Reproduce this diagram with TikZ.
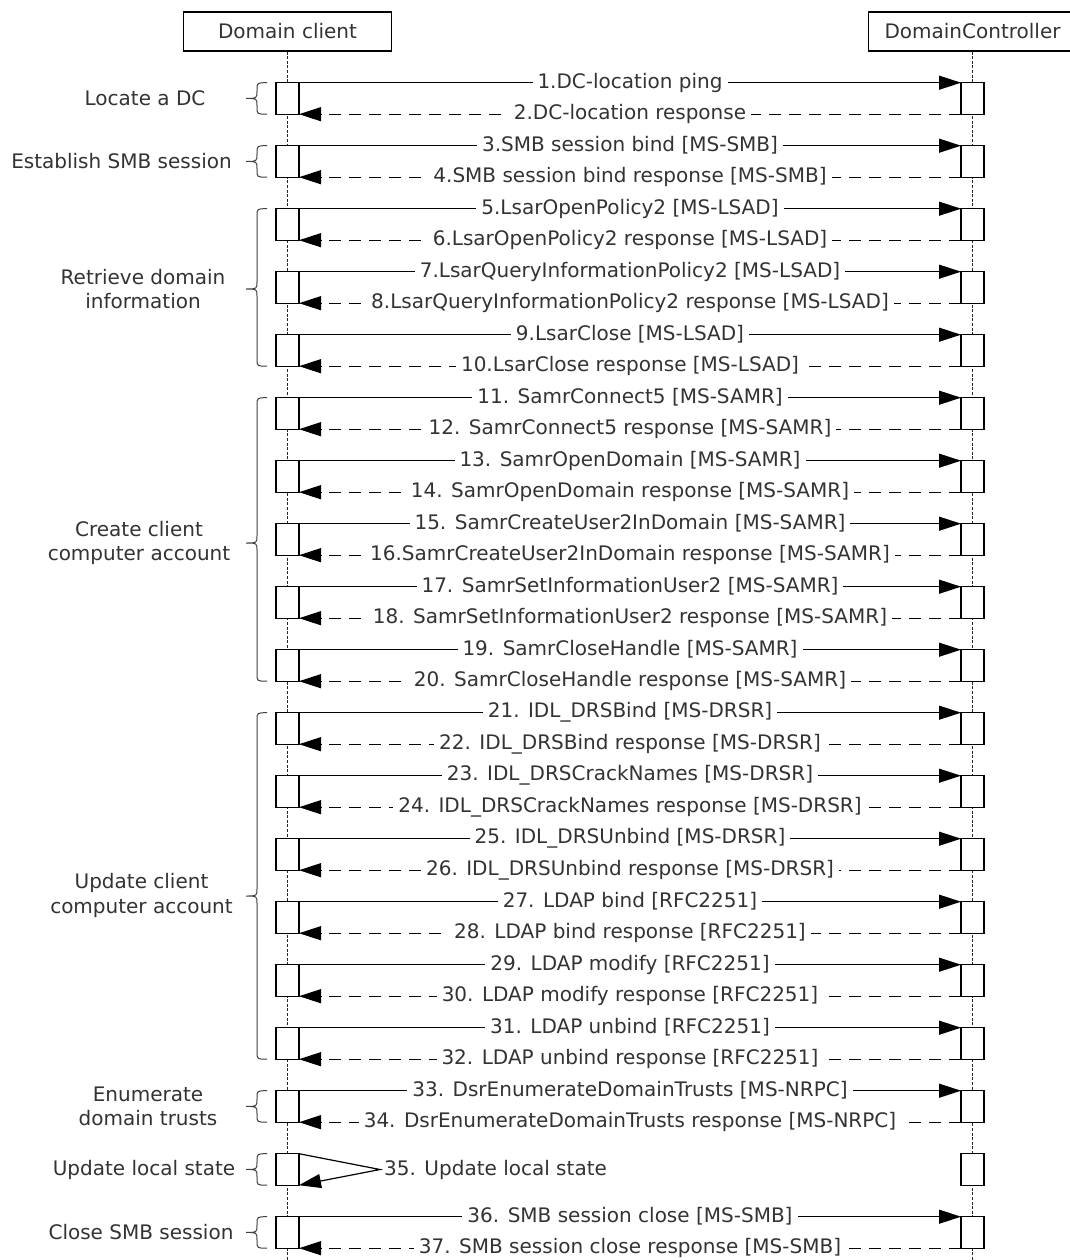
\documentclass[tikz,border=0pt]{standalone}
\usepackage{fontspec}
\setmainfont{DejaVu Sans}
\usetikzlibrary{arrows.meta}
\definecolor{txt}{HTML}{333333}
\newcommand\msgpair[3]{%
  \node[act] (ca#1) at (287.5,{82.7+63*(#1-1)+15.75}) {};
  \node[act] (da#1) at (972.5,{82.7+63*(#1-1)+15.75}) {};
  \draw[req] (ca#1.north east) -- node[lbl]{#2} (da#1.north west);
  \draw[resp] (da#1.south west) -- node[lbl]{#3} (ca#1.south east);
}
% top, bottom, tip y
\newcommand\grpbrace[3]{%
  \draw[brc] (267,#1) .. controls (257,#1) .. (257,{#1+7.5})
    -- (257,{#3-7.5}) .. controls (257,#3) .. (246,#3)
    .. controls (257,#3) .. (257,{#3+7.5})
    -- (257,{#2-7.5}) .. controls (257,#2) .. (267,#2);
}
\begin{document}
\begin{tikzpicture}[x=1pt,y=-1pt,
  every node/.style={font=\fontsize{20}{24.5}\selectfont, text=txt},
  hdr/.style={draw=black, line width=1.2pt, minimum width=208pt, minimum height=39pt, inner sep=0pt, fill=white},
  act/.style={draw=black, fill=white, line width=1.3pt, minimum width=23pt, minimum height=31.5pt, inner sep=0pt, outer sep=0pt},
  life/.style={line width=0.9pt, draw=black!85, dash pattern=on 3pt off 1.6pt},
  req/.style={line width=1.2pt, draw=black, -{Triangle[length=22pt,width=14pt]}},
  resp/.style={req, dash pattern=on 12pt off 8pt},
  lbl/.style={fill=white, inner xsep=5pt, inner ysep=1pt},
  grp/.style={align=center, inner sep=0pt},
  brc/.style={line width=1pt, draw=black!75},
]
\useasboundingbox (0,0) rectangle (1070,1260);
\clip (0,0) rectangle (1070,1260);
\fill[white] (0,0) rectangle (1070,1260);

% participants
\node[hdr] (hc) at (287.5,31.5) {Domain client};
\node[hdr] (hd) at (972.5,31.5) {DomainController};
\coordinate (lcb) at (287.5,1262);
\coordinate (ldb) at (972.5,1262);
\draw[life] (hc.south) -- (lcb);
\draw[life] (hd.south) -- (ldb);

% messages
\msgpair{1}{1.DC-location ping}{2.DC-location response}
\msgpair{2}{3.SMB session bind [MS-SMB]}{4.SMB session bind response [MS-SMB]}
\msgpair{3}{5.LsarOpenPolicy2 [MS-LSAD]}{6.LsarOpenPolicy2 response [MS-LSAD]}
\msgpair{4}{7.LsarQueryInformationPolicy2 [MS-LSAD]}{8.LsarQueryInformationPolicy2 response [MS-LSAD]}
\msgpair{5}{9.LsarClose [MS-LSAD]}{10.LsarClose response [MS-LSAD]}
\msgpair{6}{11. SamrConnect5 [MS-SAMR]}{12. SamrConnect5 response [MS-SAMR]}
\msgpair{7}{13. SamrOpenDomain [MS-SAMR]}{14. SamrOpenDomain response [MS-SAMR]}
\msgpair{8}{15. SamrCreateUser2InDomain [MS-SAMR]}{16.SamrCreateUser2InDomain response [MS-SAMR]}
\msgpair{9}{17. SamrSetInformationUser2 [MS-SAMR]}{18. SamrSetInformationUser2 response [MS-SAMR]}
\msgpair{10}{19. SamrCloseHandle [MS-SAMR]}{20. SamrCloseHandle response [MS-SAMR]}
\msgpair{11}{21. IDL\_DRSBind [MS-DRSR]}{22. IDL\_DRSBind response [MS-DRSR]}
\msgpair{12}{23. IDL\_DRSCrackNames [MS-DRSR]}{24. IDL\_DRSCrackNames response [MS-DRSR]}
\msgpair{13}{25. IDL\_DRSUnbind [MS-DRSR]}{26. IDL\_DRSUnbind response [MS-DRSR]}
\msgpair{14}{27. LDAP bind [RFC2251]}{28. LDAP bind response [RFC2251]}
\msgpair{15}{29. LDAP modify [RFC2251]}{30. LDAP modify response [RFC2251]}
\msgpair{16}{31. LDAP unbind [RFC2251]}{32. LDAP unbind response [RFC2251]}
\msgpair{17}{33. DsrEnumerateDomainTrusts [MS-NRPC]}{34. DsrEnumerateDomainTrusts response [MS-NRPC]}
\msgpair{19}{36. SMB session close [MS-SMB]}{37. SMB session close response [MS-SMB]}

% self message
\node[act] (ca18) at (287.5,{82.7+63*17+15.75}) {};
\node[act] (da18) at (972.5,{82.7+63*17+15.75}) {};
\node[anchor=west, inner xsep=4pt, inner ysep=1pt] (l35) at (380,1169.5) {35. Update local state};
\draw[req] (ca18.north east) -- (l35.west) -- (ca18.south east);

% groups
\grpbrace{82.7}{114.2}{98.45}
\grpbrace{145.7}{177.2}{161.45}
\grpbrace{208.7}{366.2}{289}
\grpbrace{397.7}{681.2}{543}
\grpbrace{712.7}{1059.2}{896}
\grpbrace{1090.7}{1122.2}{1106.45}
\grpbrace{1153.7}{1185.2}{1169.45}
\grpbrace{1216.7}{1248.2}{1232.45}
\node[grp] (g1) at (145,98.5) {Locate a DC};
\node[grp] (g2) at (121.5,161.5) {Establish SMB session};
\node[grp] (g3) at (143,289) {Retrieve domain\\information};
\node[grp] (g4) at (139,543) {Create client\\computer account};
\node[grp] (g5) at (141.5,895.5) {Update client\\computer account};
\node[grp] (g6) at (148,1106.5) {Enumerate\\domain trusts};
\node[grp] (g7) at (144,1169.5) {Update local state};
\node[grp] (g8) at (141,1232.5) {Close SMB session};
\end{tikzpicture}
\end{document}
